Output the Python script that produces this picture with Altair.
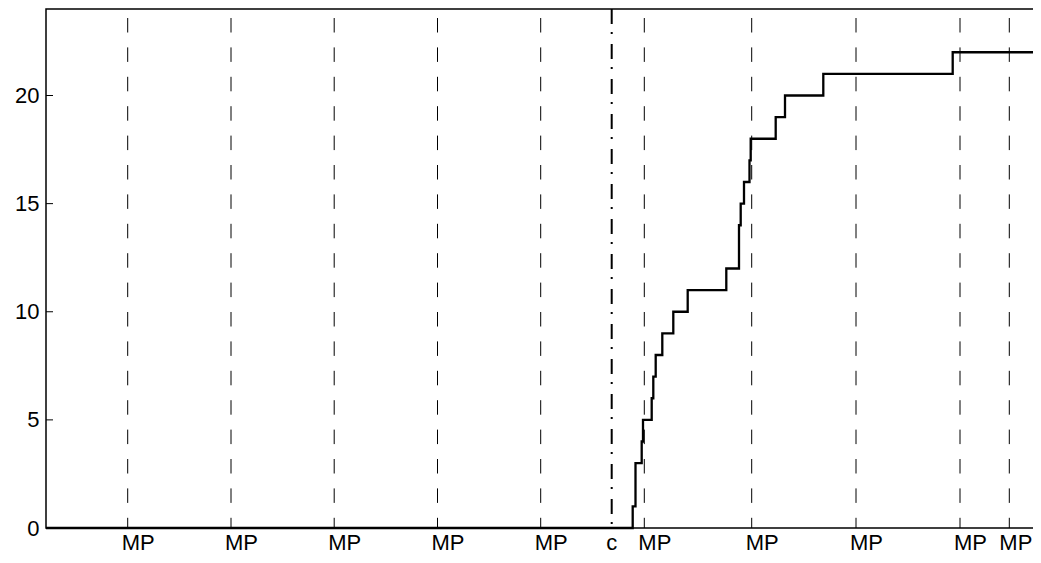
import altair as alt
import pandas as pd

# ---- data ----
MP_X = [81.7, 185.0, 288.2, 391.5, 494.7, 598.3, 705.7, 810.0, 914.0, 963.3]
MP_LABEL = ["MP"] * len(MP_X)
C_X = [565.7]
C_LABEL = ["c"]
STEP_X = [0, 586.7, 589.5, 589.5, 595.7, 597.0, 605.7, 607.3, 609.7, 616.3,
          627.3, 641.7, 680.3, 693.0, 693.0, 694.7, 698.0, 703.5, 704.7,
          729.7, 739.0, 777.3, 906.7, 1000.0]
STEP_Y = [0, 1, 2, 3, 4, 5, 6, 7, 8, 9, 10, 11, 12, 13, 14, 15, 16, 17, 18,
          19, 20, 21, 22, 22]
Y_TICKS = [0, 5, 10, 15, 20]
X_DOMAIN = [0, 1000]
Y_DOMAIN = [0, 24]

FONT = "Liberation Sans"
W, H = 1000, 519
LABEL_DY = 22

step_df = pd.DataFrame({"x": STEP_X, "y": STEP_Y, "i": list(range(len(STEP_X)))})
mp_df = pd.DataFrame({"x": MP_X, "label": MP_LABEL})
mp_main_df = mp_df.iloc[:-1]
mp_last_df = mp_df.iloc[-1:]
c_df = pd.DataFrame({"x": C_X, "label": C_LABEL})
tick_df = pd.DataFrame({"y": Y_TICKS})

xs = alt.Scale(domain=X_DOMAIN, nice=False, zero=False)
ys = alt.Scale(domain=Y_DOMAIN, nice=False, zero=False)
y_axis = alt.Axis(values=Y_TICKS, labelFontSize=22, labelFont=FONT, labelColor="black",
                  ticks=False, domain=False, grid=False, title=None, labelPadding=7)
Xenc = alt.X("x:Q", scale=xs, axis=None)
Yenc = alt.Y("y:Q", scale=ys, axis=y_axis)

mp_rules = alt.Chart(mp_df).mark_rule(
    color="black", strokeWidth=1, strokeDash=[14.5, 14.9], strokeDashOffset=20.4
).encode(x=Xenc, y=alt.value(0), y2=alt.value(H))

c_rule = alt.Chart(c_df).mark_rule(
    color="black", strokeWidth=2, strokeDash=[15, 8, 2, 10]
).encode(x=Xenc, y=alt.value(0), y2=alt.value(H))

step = alt.Chart(step_df).mark_line(
    interpolate="step-after", color="black", strokeWidth=2.3
).encode(x=Xenc, y=Yenc, order=alt.Order("i:Q"))

ticks_left = alt.Chart(tick_df).mark_rule(color="black", strokeWidth=1).encode(
    y=Yenc, x=alt.value(0), x2=alt.value(7))
ticks_right = alt.Chart(tick_df).mark_rule(color="black", strokeWidth=1).encode(
    y=Yenc, x=alt.value(W - 7), x2=alt.value(W))

mp_text = alt.Chart(mp_main_df).mark_text(
    align="left", baseline="alphabetic", dx=-6, dy=LABEL_DY, fontSize=22, font=FONT, color="black"
).encode(x=Xenc, y=alt.value(H), text="label:N")

mp_text_last = alt.Chart(mp_last_df).mark_text(
    align="right", baseline="alphabetic", dx=23, dy=LABEL_DY, fontSize=22, font=FONT, color="black"
).encode(x=Xenc, y=alt.value(H), text="label:N")

c_text = alt.Chart(c_df).mark_text(
    align="center", baseline="alphabetic", dy=LABEL_DY, fontSize=22, font=FONT, color="black"
).encode(x=Xenc, y=alt.value(H), text="label:N")

chart = alt.layer(
    mp_rules, c_rule, ticks_left, ticks_right, step, mp_text, mp_text_last, c_text
).properties(
    width=W, height=H, autosize="none",
    padding={"left": 38, "top": 1, "right": -13, "bottom": 27},
    background="white",
).configure_view(stroke="black", strokeWidth=1.5)

chart.save("out.html", embed_options={"renderer": "svg", "actions": False})
